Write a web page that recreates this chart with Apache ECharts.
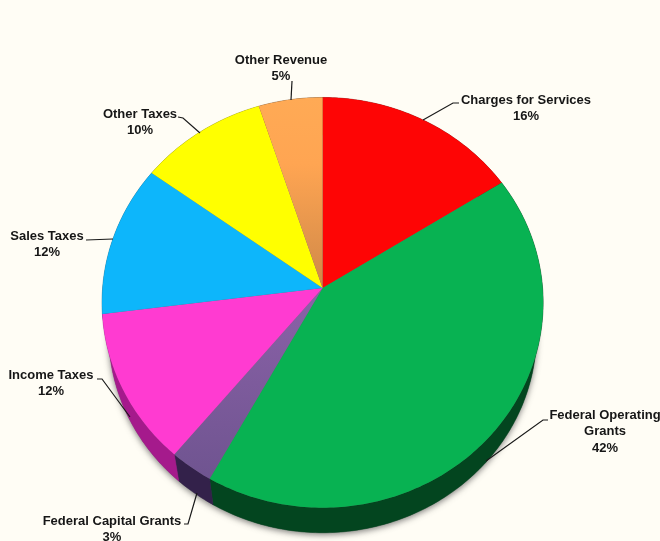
<!DOCTYPE html>
<html>
<head>
<meta charset="utf-8">
<script src="https://cdn.jsdelivr.net/npm/echarts@6/dist/echarts.min.js"></script>
<style>
  html, body { margin: 0; padding: 0; background: #fffdf5; }
  #chart { width: 660px; height: 541px; }
</style>
</head>
<body>
<div id="chart"></div>
<script>
// clockwise from 12 o'clock, percent of revenue
const categories = ["Charges for Services", "Federal Operating Grants", "Federal Capital Grants", "Income Taxes", "Sales Taxes", "Other Taxes", "Other Revenue"];
const shares = [16, 42, 3, 12, 12, 10, 5];

const topColors = ["#fe0505", "#08b252", null, "#ff3bd1", "#0db6fb", "#ffff00", null];
const wallColors = ["#8a0303", "#03451f", "#33214a", "#a51a8c", "#086a90", "#8a8a00", "#7a4c22"];
// these two slices fade towards the centre
const purpleFill = new echarts.graphic.LinearGradient(0, 0, 0, 1, [{ offset: 0, color: "#8b62a8" }, { offset: 1, color: "#6f5490" }]);
const orangeFill = new echarts.graphic.LinearGradient(0, 0, 0, 1, [{ offset: 0, color: "#ffaa55" }, { offset: 0.35, color: "#ffa552" }, { offset: 1, color: "#cf8848" }]);
topColors[2] = purpleFill;
topColors[6] = orangeFill;

// label lines, centre x, first line y and leader line, in page pixels
const labelLines = [["Charges for Services"], ["Federal Operating", "Grants"], ["Federal Capital Grants"], ["Income Taxes"], ["Sales Taxes"], ["Other Taxes"], ["Other Revenue"]];
const labelX = [526, 605, 112, 51, 47, 140, 281];
const labelY = [99, 414, 520, 374, 235, 113, 59];
const leaders = [
  [[423, 120], [453, 103], [459, 103]],
  [[486, 461], [543, 420], [548, 420]],
  [[197, 493], [188, 524], [184, 524]],
  [[130, 417], [102, 379], [97, 379]],
  [[113, 239], [86, 240]],
  [[200, 133], [183, 118], [178, 117]],
  [[291, 100], [292, 81]]
];

// the disc is tilted, so the near edge looks larger than the far edge
const tilt = 0.0706;
const wallScale = 0.97;
const wallDrop = 0.155;

const rim = (pct, scale, drop) => {
  const t = (pct / 100) * Math.PI * 2;
  const d = 1 + tilt * Math.cos(t);
  return [scale * Math.sin(t) / d, (scale * Math.cos(t)) / d - drop];
};

const arc = (from, to, scale, drop) => {
  const pts = [];
  const n = Math.max(2, Math.ceil((to - from) * 4));
  for (let i = 0; i <= n; i++) {
    pts.push(rim(from + ((to - from) * i) / n, scale, drop));
  }
  return pts;
};

const sliceData = [];
let running = 0;
shares.forEach((v, i) => {
  sliceData.push({ name: categories[i], value: [running, running + v, i] });
  running += v;
});

const renderShadow = (params, api) => {
  if (params.dataIndex !== 0) return null;
  const pts = arc(0, 100, wallScale, wallDrop).map((p) => api.coord(p));
  return {
    type: "polygon",
    shape: { points: pts },
    style: { fill: "#666", shadowBlur: 6, shadowColor: "rgba(70,70,70,0.7)", shadowOffsetX: 0, shadowOffsetY: 2 }
  };
};

const renderWall = (params, api) => {
  const from = api.value(0), to = api.value(1);
  const outer = arc(from, to, 1, 0);
  const lower = arc(from, to, wallScale, wallDrop).reverse();
  return {
    type: "polygon",
    shape: { points: outer.concat(lower).map((p) => api.coord(p)) },
    style: { fill: wallColors[api.value(2)], stroke: wallColors[api.value(2)], lineWidth: 0.5 }
  };
};

const renderTop = (params, api) => {
  const from = api.value(0), to = api.value(1);
  const pts = [[0, 0]].concat(arc(from, to, 1, 0));
  const color = topColors[api.value(2)];
  return {
    type: "polygon",
    shape: { points: pts.map((p) => api.coord(p)) },
    style: { fill: color }
  };
};

const labelGraphics = [];
labelLines.forEach((lines, i) => {
  const text = lines.concat([shares[i] + "%"]).join("\n");
  labelGraphics.push({
    type: "text",
    z: 10,
    x: labelX[i],
    y: labelY[i] - 7,
    style: {
      text: text,
      fill: "#161616",
      font: "bold 13px 'Liberation Sans', Arial, sans-serif",
      lineHeight: 16.5,
      align: "center",
      verticalAlign: "top"
    }
  });
  labelGraphics.push({
    type: "polyline",
    z: 10,
    shape: { points: leaders[i] },
    style: { stroke: "#1a1a1a", lineWidth: 1.2, fill: null }
  });
});

const series = (renderItem, z) => ({
  type: "custom",
  coordinateSystem: "cartesian2d",
  clip: false,
  silent: true,
  z: z,
  encode: { x: 0, y: 1 },
  data: sliceData,
  renderItem: renderItem
});

const option = {
  animation: false,
  backgroundColor: "#fffdf5",
  grid: { left: 102.6, top: 84, width: 440, height: 449 },
  xAxis: { type: "value", min: -1, max: 1, show: false },
  yAxis: { type: "value", min: -1.2, max: 1, show: false },
  series: [series(renderShadow, 1), series(renderWall, 2), series(renderTop, 3)],
  graphic: labelGraphics
};

const myChart = echarts.init(document.getElementById("chart"));
myChart.setOption(option);
</script>
</body>
</html>
